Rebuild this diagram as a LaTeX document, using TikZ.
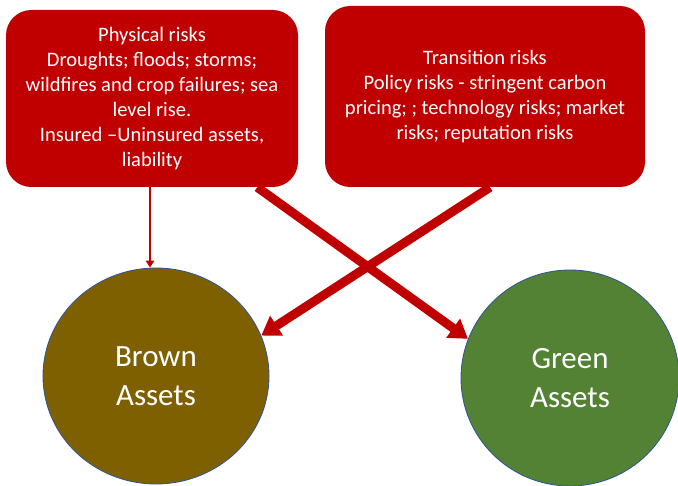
\documentclass[tikz,border=0pt]{standalone}
\usepackage{fontspec}
\setmainfont{Carlito}
\usetikzlibrary{arrows.meta,shapes.geometric}
\definecolor{riskred}{HTML}{C00000}
\definecolor{brownfill}{HTML}{7F6000}
\definecolor{greenfill}{HTML}{548235}
\definecolor{rimblue}{HTML}{2F5597}

\begin{document}
\begin{tikzpicture}[riskbox/.style={rectangle,rounded corners=18pt,fill=riskred,text=white,align=center,font=\fontsize{14.6}{17.8}\selectfont,inner sep=0pt},
  asset/.style={ellipse,draw=rimblue,line width=0.6pt,text=white,align=center,font=\fontsize{22}{28}\selectfont,inner sep=0pt},
  bigarrow/.style={draw=riskred,line width=6.4pt,-{Triangle[length=13pt,width=16pt]}},
  smallarrow/.style={draw=riskred,line width=1.6pt,-{Triangle[length=5pt,width=6pt]}}]
  \useasboundingbox (0,0) rectangle (16.95,12.125);
  \node [riskbox,minimum width=7.3cm,minimum height=4.425cm](phys) at (3.8,9.6625) {Physical risks\\Droughts; floods; storms;\\wildfires and crop failures; sea\\level rise.\\Insured --Uninsured assets,\\liability};
  \node [riskbox,minimum width=8cm,minimum height=4.525cm](trans) at (12.125,9.7125) {Transition risks\\Policy risks - stringent carbon\\pricing; ; technology risks; market\\risks; reputation risks};
  \node [asset,fill=brownfill,minimum width=5.65cm,minimum height=5.4cm](brown) at (3.9,2.725) {Brown\\Assets};
  \node [asset,fill=greenfill,minimum width=5.45cm,minimum height=5.4cm](green) at (14.25,2.675) {Green\\Assets};
  \draw [smallarrow] ([xshift=-0.15cm]phys.south -| brown.north) -- ([xshift=-0.15cm]brown.north);
  \draw [bigarrow] ([xshift=-1.025cm]phys.south east) -- (green.159);
  \draw [bigarrow] ([xshift=0.125cm]trans.south) -- (brown.21);
\end{tikzpicture}
\end{document}
